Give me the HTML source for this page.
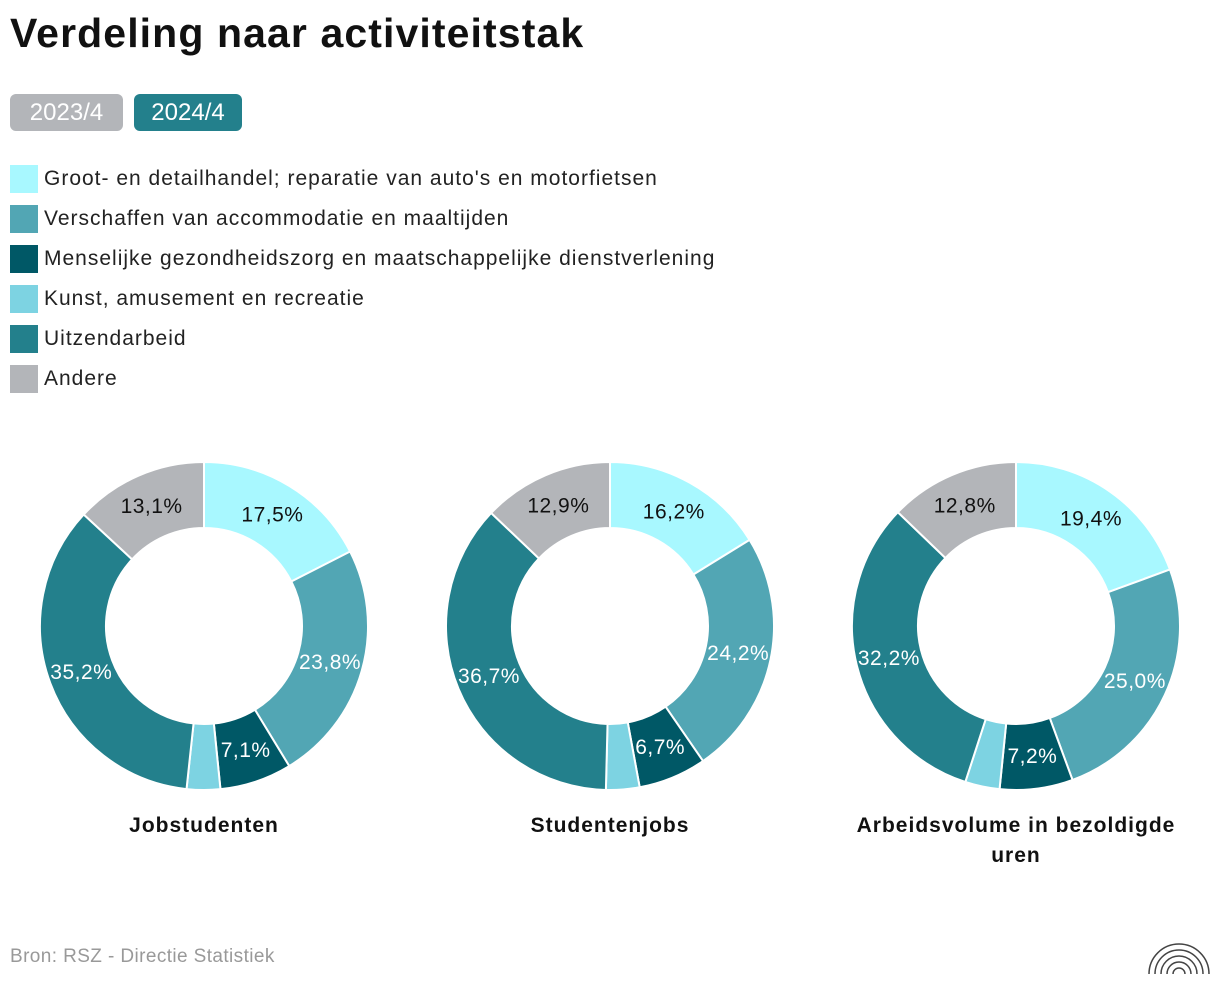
<!DOCTYPE html>
<html><head><meta charset="utf-8"><style>
body{margin:0;width:1220px;height:996px;background:#fff;font-family:"Liberation Sans",sans-serif;position:relative;overflow:hidden}
.t{position:absolute;left:10px;top:10px;font-size:41px;font-weight:bold;color:#111;letter-spacing:1.1px}
.btn{position:absolute;top:94px;height:37px;border-radius:6px;color:#fff;font-size:24px;line-height:37px;text-align:center}
.leg{position:absolute;left:10px;font-size:21px;color:#222;height:28px;line-height:28px;letter-spacing:1px}
.leg span{display:inline-block;width:28px;height:28px;vertical-align:top;margin-right:6px}
.src{position:absolute;left:10px;top:946px;font-size:19px;color:#999;letter-spacing:0.4px}
</style></head><body>
<div class="t">Verdeling naar activiteitstak</div>
<div class="btn" style="left:10px;width:113px;background:#b3b5b9">2023/4</div>
<div class="btn" style="left:134px;width:108px;background:#23808c">2024/4</div>
<div id="legend"></div>
<svg id="chart" width="1220" height="996" style="position:absolute;left:0;top:0"></svg>
<div class="src">Bron: RSZ - Directie Statistiek</div>
<svg width="70" height="60" style="position:absolute;left:1144px;top:924px">
<g fill="none" stroke="#444" stroke-width="1.5">
<path d="M5 50 A30 30 0 0 1 65 50"/><path d="M11 50 A24 24 0 0 1 59 50"/><path d="M17 50 A18 18 0 0 1 53 50"/><path d="M23 50 A12 12 0 0 1 47 50"/><path d="M29 50 A6 6 0 0 1 41 50"/></g></svg>
<script>
const categories=["Groot- en detailhandel; reparatie van auto's en motorfietsen","Verschaffen van accommodatie en maaltijden","Menselijke gezondheidszorg en maatschappelijke dienstverlening","Kunst, amusement en recreatie","Uitzendarbeid","Andere"];
const colors=["#a8f8ff","#52a6b4","#005866","#7dd3e2","#23808c","#b3b5b9"];
const textColors=["#111","#fff","#fff","#fff","#fff","#111"];
const chartTitles=["Jobstudenten","Studentenjobs","Arbeidsvolume in bezoldigde uren"];
const jobstudenten=[17.5,23.8,7.1,3.3,35.2,13.1];
const studentenjobs=[16.2,24.2,6.7,3.3,36.7,12.9];
const arbeidsvolume=[19.4,25.0,7.2,3.4,32.2,12.8];
const series=[jobstudenten,studentenjobs,arbeidsvolume];
const ns="http://www.w3.org/2000/svg";
const leg=document.getElementById('legend');
categories.forEach((c,i)=>{const d=document.createElement('div');d.className='leg';d.style.top=(165+i*40)+'px';


d.innerHTML='<span style="background:'+colors[i]+'"></span>'+c;leg.appendChild(d);});
const svg=document.getElementById('chart');
const R=164,r=98,cy=626;
series.forEach((vals,k)=>{
 const cx=204+406*k;const tot=vals.reduce((a,b)=>a+b,0);let a0=0;
 vals.forEach((v,i)=>{
  const a1=a0+v/tot*2*Math.PI;
  const p=(a,rad)=>[cx+rad*Math.sin(a),cy-rad*Math.cos(a)];
  const [x1,y1]=p(a0,R),[x2,y2]=p(a1,R),[x3,y3]=p(a1,r),[x4,y4]=p(a0,r);
  const lg=(a1-a0)>Math.PI?1:0;
  const path=document.createElementNS(ns,'path');
  path.setAttribute('d',`M${x1} ${y1}A${R} ${R} 0 ${lg} 1 ${x2} ${y2}L${x3} ${y3}A${r} ${r} 0 ${lg} 0 ${x4} ${y4}Z`);
  path.setAttribute('fill',colors[i]);path.setAttribute('stroke','#fff');path.setAttribute('stroke-width','2');
  
  
  svg.appendChild(path);
  if(i!==3){const [lx,ly]=p((a0+a1)/2,131);const t=document.createElementNS(ns,'text');
   t.setAttribute('x',lx);t.setAttribute('y',ly+7);t.setAttribute('text-anchor','middle');t.setAttribute('font-size','21');
   t.setAttribute('fill',textColors[i]);t.setAttribute('font-family','Liberation Sans, sans-serif');t.setAttribute('letter-spacing','0.5');
   t.textContent=v.toFixed(1).replace('.',',')+'%';
   
   
   svg.appendChild(t);}
  a0=a1;});
 const words=chartTitles[k];const lines=words.length>20?["Arbeidsvolume in bezoldigde","uren"]:[words];
 lines.forEach((ln,j)=>{const t=document.createElementNS(ns,'text');t.setAttribute('x',cx);t.setAttribute('y',832+j*30);
  t.setAttribute('text-anchor','middle');t.setAttribute('font-size','21');t.setAttribute('font-weight','bold');t.setAttribute('fill','#111');
  t.setAttribute('font-family','Liberation Sans, sans-serif');t.setAttribute('letter-spacing','1');t.textContent=ln;
  
  
  svg.appendChild(t);});
});
</script>
</body></html>
